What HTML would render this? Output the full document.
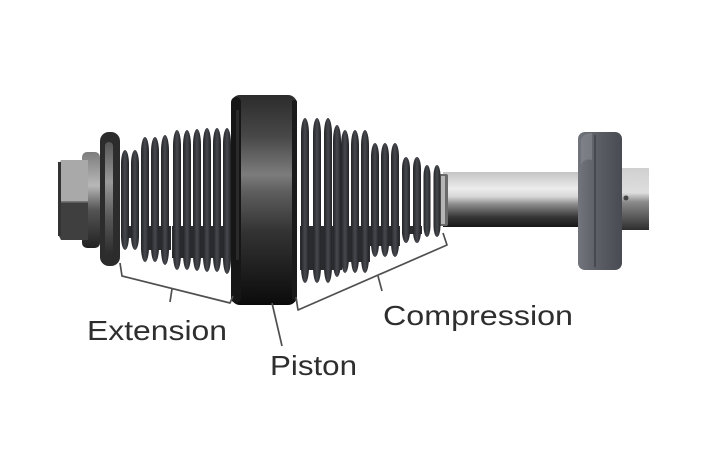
<!DOCTYPE html>
<html><head><meta charset="utf-8"><style>
html,body{margin:0;padding:0;background:#fff;}
svg{display:block;}
text{font-family:"Liberation Sans",sans-serif;fill:#2e2e2e;}
</style></head><body>
<svg width="702" height="468" viewBox="0 0 702 468" xmlns="http://www.w3.org/2000/svg">
<defs>
<linearGradient id="fin" x1="0" y1="0" x2="1" y2="0">
<stop offset="0" stop-color="#222326"/><stop offset="0.5" stop-color="#46494f"/><stop offset="1" stop-color="#222326"/>
</linearGradient>
<linearGradient id="rod" x1="0" y1="0" x2="0" y2="1">
<stop offset="0" stop-color="#c4c4c4"/><stop offset="0.3" stop-color="#ececec"/><stop offset="0.45" stop-color="#d6d6d6"/><stop offset="0.58" stop-color="#8e8e8e"/><stop offset="0.82" stop-color="#363636"/><stop offset="1" stop-color="#161616"/>
</linearGradient>
<linearGradient id="rod2" x1="0" y1="0" x2="0" y2="1">
<stop offset="0" stop-color="#d0d0d0"/><stop offset="0.4" stop-color="#dedede"/><stop offset="0.55" stop-color="#8a8a8a"/><stop offset="1" stop-color="#2e2e2e"/>
</linearGradient>
<linearGradient id="pist" x1="0" y1="0" x2="0" y2="1">
<stop offset="0" stop-color="#2c2c2c"/><stop offset="0.2" stop-color="#484848"/><stop offset="0.38" stop-color="#7c7c7c"/><stop offset="0.46" stop-color="#5e5e5e"/><stop offset="0.65" stop-color="#333"/><stop offset="1" stop-color="#0b0b0b"/>
</linearGradient>
<linearGradient id="disc" x1="0" y1="0" x2="1" y2="0">
<stop offset="0" stop-color="#72757c"/><stop offset="0.4" stop-color="#5d6067"/><stop offset="1" stop-color="#484b51"/>
</linearGradient>
<linearGradient id="flange" x1="0" y1="0" x2="0" y2="1">
<stop offset="0" stop-color="#7d7d7d"/><stop offset="0.35" stop-color="#b8b8b8"/><stop offset="0.6" stop-color="#555"/><stop offset="1" stop-color="#222"/>
</linearGradient>
<linearGradient id="wash" x1="0" y1="0" x2="0" y2="1">
<stop offset="0" stop-color="#555"/><stop offset="0.35" stop-color="#9a9a9a"/><stop offset="0.65" stop-color="#5a5a5a"/><stop offset="1" stop-color="#2a2a2a"/>
</linearGradient>
</defs>

<!-- end rod right -->
<rect x="615" y="168" width="34" height="62" fill="url(#rod2)"/>
<!-- main rod -->
<rect x="443" y="172" width="142" height="55" fill="url(#rod)"/>
<!-- right disc -->
<rect x="578" y="132" width="44" height="138" rx="7" fill="url(#disc)"/>
<line x1="595" y1="135" x2="595" y2="267" stroke="#3f4247" stroke-width="1.5"/>
<path d="M581 140 Q583 133 592 133 L592 160 Q584 158 581 165 Z" fill="#878a90" opacity="0.6"/>
<circle cx="626" cy="198" r="2.5" fill="#444"/>
<!-- collar -->
<rect x="439" y="174" width="9" height="52" rx="2" fill="#6a6a6a"/>
<rect x="441" y="176" width="4" height="48" fill="#b5b5b5"/>

<!-- right lower dark fills -->
<rect x="300" y="226" width="42" height="44" fill="#2a2b2e"/>
<rect x="340" y="226" width="30" height="36" fill="#2a2b2e"/>
<rect x="370" y="226" width="30" height="20" fill="#2a2b2e"/>
<rect x="402" y="226" width="20" height="8" fill="#2a2b2e"/>
<!-- right fins -->
<g fill="url(#fin)">
<rect x="301" y="118" width="8" height="165" rx="4" ry="16"/>
<rect x="313" y="118" width="8" height="165" rx="4" ry="16"/>
<rect x="324" y="118" width="8" height="165" rx="4" ry="16"/>
<rect x="333" y="125" width="8" height="152" rx="4" ry="16"/>
<rect x="341" y="130" width="8" height="143" rx="4" ry="16"/>
<rect x="351" y="130" width="8" height="143" rx="4" ry="16"/>
<rect x="361" y="130" width="8" height="143" rx="4" ry="16"/>
<rect x="371" y="143" width="8" height="114" rx="4" ry="14"/>
<rect x="381" y="143" width="8" height="114" rx="4" ry="14"/>
<rect x="391" y="143" width="8" height="114" rx="4" ry="14"/>
<rect x="402" y="157" width="8" height="86" rx="4" ry="12"/>
<rect x="413" y="157" width="8" height="86" rx="4" ry="12"/>
<rect x="423.5" y="165" width="7" height="72" rx="3.5" ry="11"/>
<rect x="433.5" y="165" width="7" height="72" rx="3.5" ry="11"/>
</g>

<!-- left lower dark fills -->
<rect x="121" y="226" width="18" height="12" fill="#2a2b2e"/>
<rect x="141" y="226" width="30" height="24" fill="#2a2b2e"/>
<rect x="172" y="226" width="60" height="32" fill="#2a2b2e"/>
<!-- left fins -->
<g fill="url(#fin)">
<rect x="121" y="150" width="8" height="100" rx="4" ry="14"/>
<rect x="131" y="150" width="8" height="100" rx="4" ry="14"/>
<rect x="141" y="137" width="8" height="125" rx="4" ry="15"/>
<rect x="151" y="137" width="8" height="125" rx="4" ry="15"/>
<rect x="161" y="135" width="8" height="130" rx="4" ry="16"/>
<rect x="173" y="130" width="8" height="140" rx="4" ry="16"/>
<rect x="183" y="130" width="8" height="140" rx="4" ry="16"/>
<rect x="193" y="129" width="8" height="142" rx="4" ry="16"/>
<rect x="203" y="128" width="8" height="144" rx="4" ry="16"/>
<rect x="213" y="128" width="8" height="144" rx="4" ry="16"/>
<rect x="223" y="128" width="8" height="146" rx="4" ry="16"/>
</g>

<!-- piston -->
<rect x="231" y="95" width="66" height="210" rx="9" fill="url(#pist)"/>
<rect x="231" y="97" width="10" height="206" rx="5" fill="#161616"/>
<rect x="236" y="110" width="3" height="150" fill="#2a2a2a"/>
<rect x="292" y="100" width="5" height="200" rx="2" fill="#1a1a1a"/>

<!-- big washer -->
<rect x="100" y="132" width="20" height="134" rx="9" fill="#2c2c2c"/>
<rect x="105" y="142" width="8" height="114" rx="4" fill="url(#wash)"/>
<!-- flange behind nut -->
<rect x="82" y="152" width="18" height="96" rx="5" fill="url(#flange)"/>
<!-- hex nut -->
<path d="M61 160 L88 160 L88 202 L58 202 L58 166 Z" fill="#a9a9a9"/>
<path d="M58 202 L88 202 L88 240 L61 240 L58 234 Z" fill="#3f3f3f"/>
<line x1="58" y1="202" x2="88" y2="202" stroke="#666" stroke-width="1.5"/>
<rect x="58" y="162" width="3" height="74" fill="#333"/>

<!-- brackets -->
<g fill="none" stroke="#505050" stroke-width="1.7" stroke-linejoin="round">
<polyline points="120,263 122,276 230,303 233,296"/>
<line x1="172" y1="289" x2="170" y2="302"/>
<polyline points="296,297 298,310 447,245 443,233"/>
<line x1="378" y1="276" x2="382" y2="291"/>
<line x1="272" y1="303" x2="282" y2="346"/>
</g>

<text x="87" y="340" font-size="28" textLength="140" lengthAdjust="spacingAndGlyphs">Extension</text>
<text x="383" y="325" font-size="28" textLength="190" lengthAdjust="spacingAndGlyphs">Compression</text>
<text x="270" y="375" font-size="28" textLength="87" lengthAdjust="spacingAndGlyphs">Piston</text>
</svg>
</body></html>
